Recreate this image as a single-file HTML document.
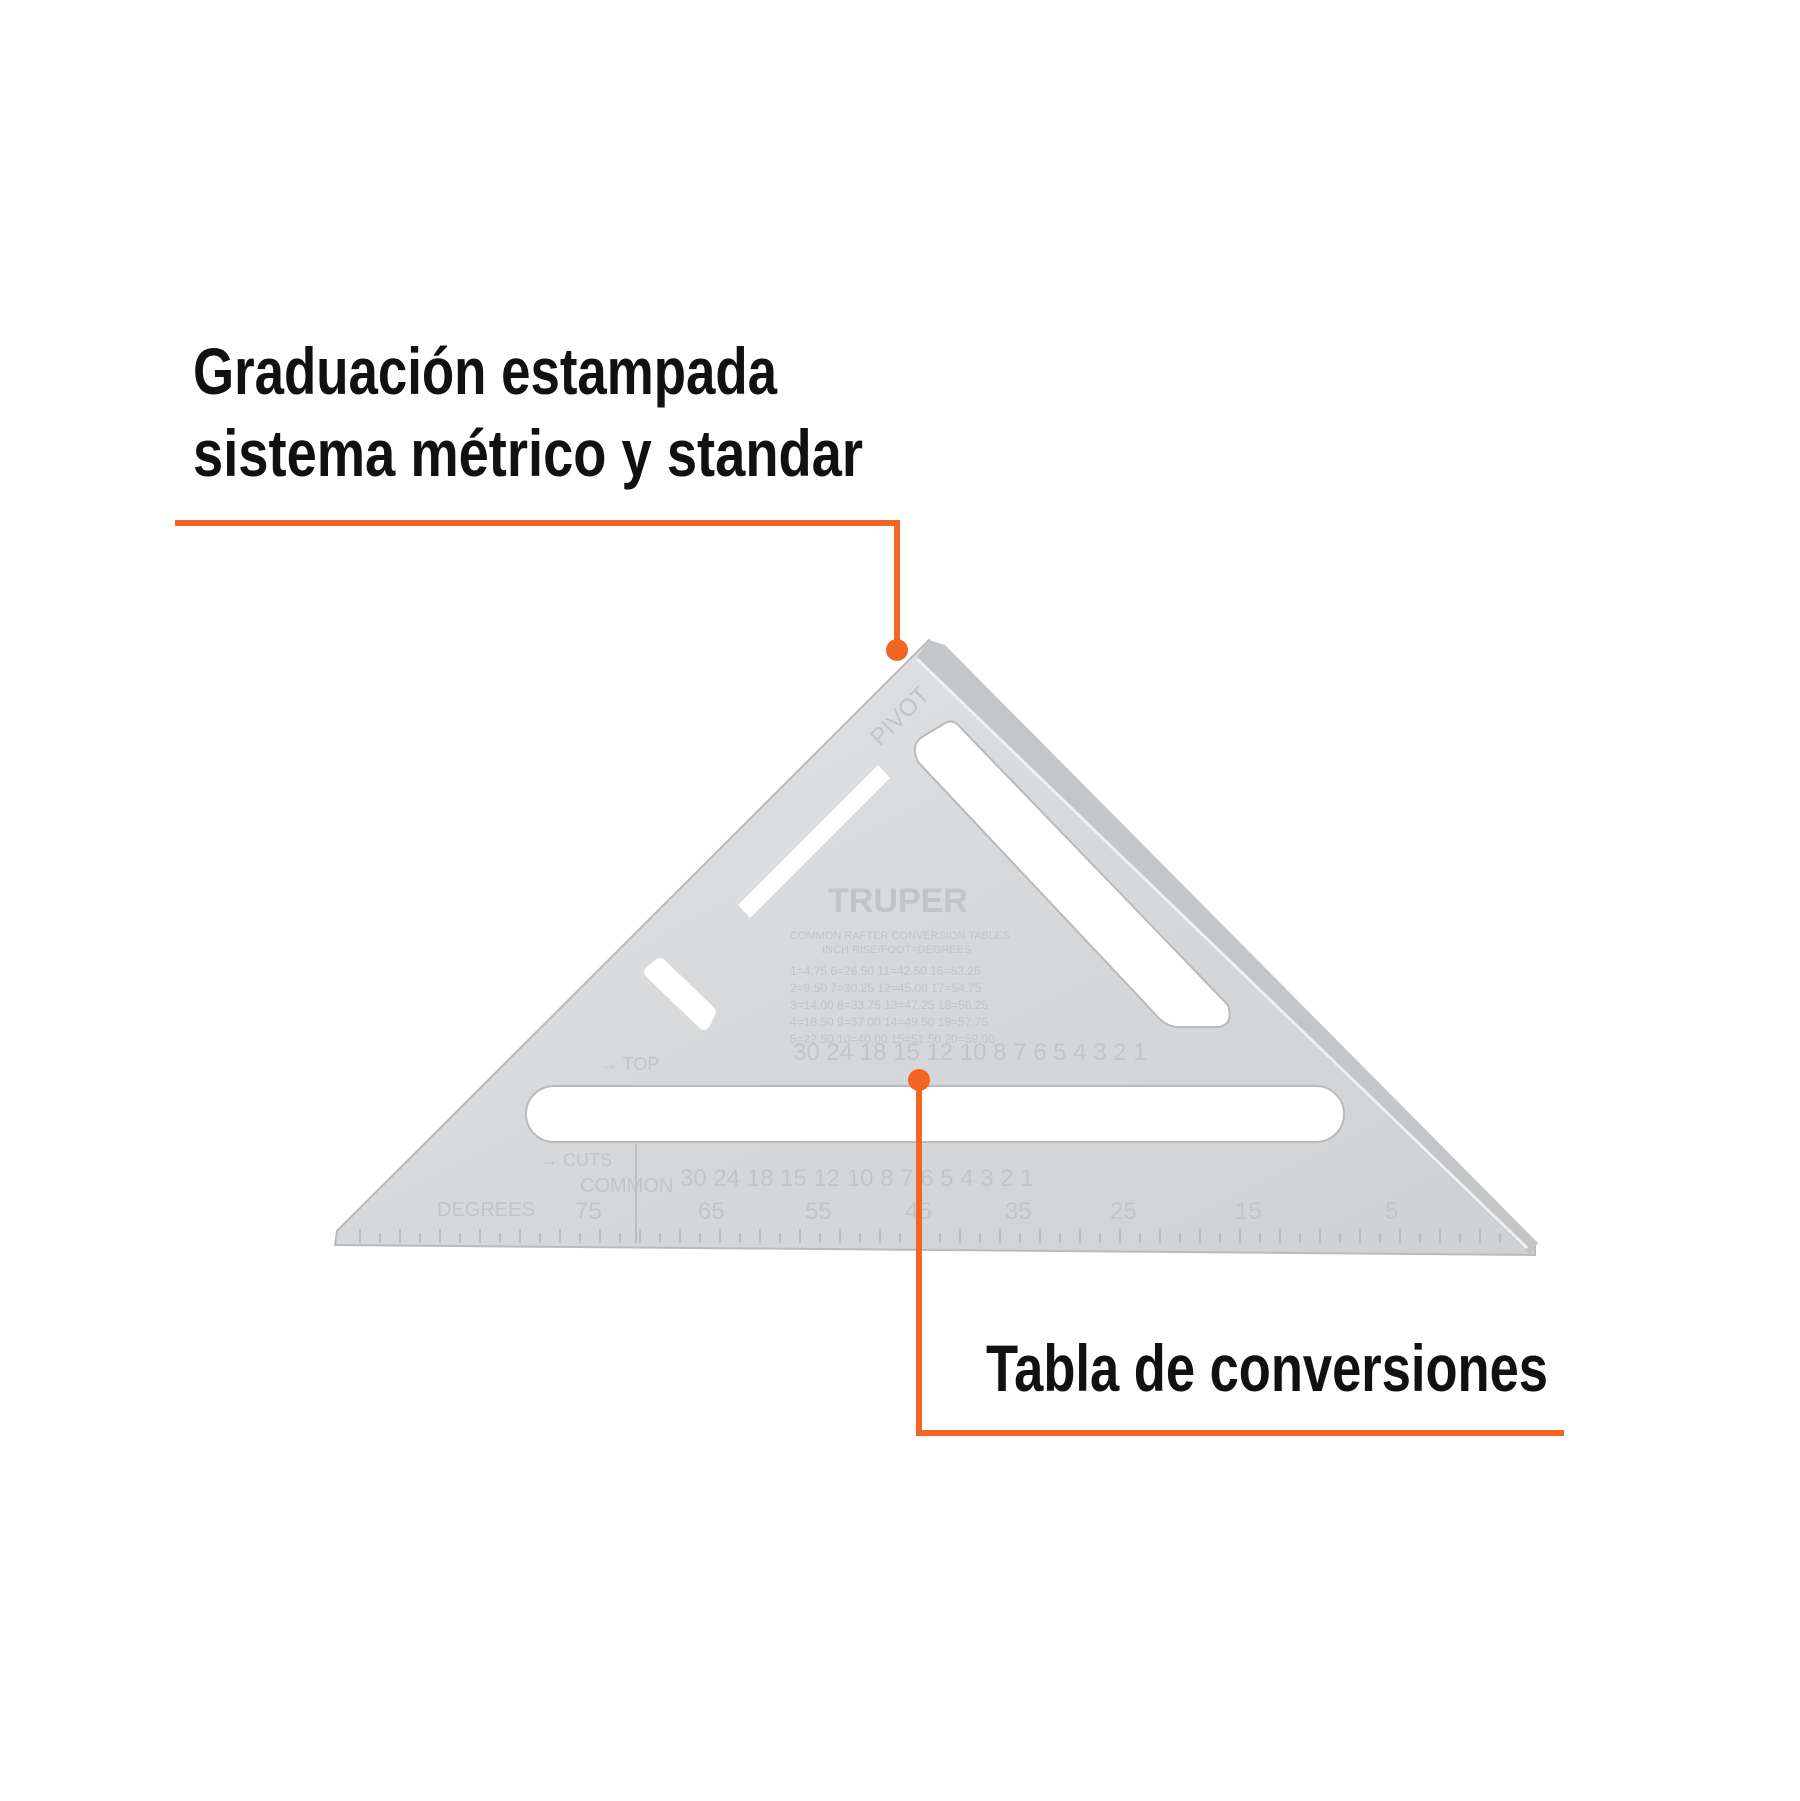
<!DOCTYPE html>
<html><head><meta charset="utf-8"><style>
html,body{margin:0;padding:0;background:#fff}
svg{display:block}
</style></head><body>
<svg width="1800" height="1801" viewBox="0 0 1800 1801" xmlns="http://www.w3.org/2000/svg">
<defs>
<linearGradient id="al" x1="0" y1="0" x2="1" y2="1">
<stop offset="0" stop-color="#e4e6e8"/><stop offset="0.5" stop-color="#d6d8da"/><stop offset="1" stop-color="#cfd1d3"/>
</linearGradient>
</defs>
<path d="M929 640 L1535 1245 L1535 1255 L335 1245 L337 1231 Z" fill="url(#al)" stroke="#b8babc" stroke-width="2"/>
<path d="M929 640 L945 645 L1538 1243 L1530 1255 L917 657 Z" fill="#c4c6c8"/>
<line x1="917" y1="659" x2="1527" y2="1248" stroke="#eef0f1" stroke-width="3"/>
<path d="M942 725 Q952 717 960 727 L1228 1005 Q1234 1025 1218 1027 L1176 1027 Q1164 1025 1156 1015 L918 762 Q910 745 922 737 Z" fill="#fff" stroke="#b8babc" stroke-width="2"/>
<rect x="526" y="1086" width="818" height="56" rx="28" fill="#fff" stroke="#b8babc" stroke-width="2"/>
<path d="M738 905 L878 765 L890 778 L750 918 Z" fill="#fff"/>
<path d="M650 972 L660 964 L710 1012 L704 1024 Z" fill="#fff" stroke="#fff" stroke-width="12" stroke-linejoin="round"/>
<g stroke="#b3b5b7" stroke-width="1.5">
<path d="M360 1243 v-14 M380 1243 v-10 M400 1243 v-14 M420 1243 v-10 M440 1243 v-14 M460 1243 v-10 M480 1243 v-14 M500 1243 v-10 M520 1243 v-14 M540 1243 v-10 M560 1243 v-14 M580 1243 v-10 M600 1243 v-14 M620 1243 v-10 M640 1243 v-14 M660 1243 v-10 M680 1243 v-14 M700 1243 v-10 M720 1243 v-14 M740 1243 v-10 M760 1243 v-14 M780 1243 v-10 M800 1243 v-14 M820 1243 v-10 M840 1243 v-14 M860 1243 v-10 M880 1243 v-14 M900 1243 v-10 M920 1243 v-14 M940 1243 v-10 M960 1243 v-14 M980 1243 v-10 M1000 1243 v-14 M1020 1243 v-10 M1040 1243 v-14 M1060 1243 v-10 M1080 1243 v-14 M1100 1243 v-10 M1120 1243 v-14 M1140 1243 v-10 M1160 1243 v-14 M1180 1243 v-10 M1200 1243 v-14 M1220 1243 v-10 M1240 1243 v-14 M1260 1243 v-10 M1280 1243 v-14 M1300 1243 v-10 M1320 1243 v-14 M1340 1243 v-10 M1360 1243 v-14 M1380 1243 v-10 M1400 1243 v-14 M1420 1243 v-10 M1440 1243 v-14 M1460 1243 v-10 M1480 1243 v-14 M1500 1243 v-10"/>
<line x1="636" y1="1144" x2="636" y2="1243"/>
</g>
<g font-family="Liberation Sans, sans-serif" fill="#c2c4c6" font-size="20">
<text x="437" y="1216">DEGREES</text>
<text x="575" y="1219" font-size="24">75</text><text x="698" y="1219" font-size="24">65</text><text x="805" y="1219" font-size="24">55</text><text x="905" y="1219" font-size="24">45</text><text x="1005" y="1219" font-size="24">35</text><text x="1110" y="1219" font-size="24">25</text><text x="1235" y="1219" font-size="24">15</text><text x="1385" y="1219" font-size="24">5</text>
<text x="580" y="1192">COMMON</text>
<text x="680" y="1186" font-size="24">30  24    18  15   12   10   8  7  6   5    4    3    2     1</text>
<text x="793" y="1060" font-size="24">30  24   18 15  12 10  8 7 6  5  4  3  2   1</text>
<text x="828" y="912" font-size="34" font-weight="bold">TRUPER</text>
<text x="790" y="939" font-size="11">COMMON RAFTER CONVERSION TABLES</text>
<text x="822" y="953" font-size="11">INCH RISE/FOOT=DEGREES</text>
<text x="790" y="975" font-size="12">1=4.75  6=26.50 11=42.50 16=53.25</text>
<text x="790" y="992" font-size="12">2=9.50  7=30.25 12=45.00 17=54.75</text>
<text x="790" y="1009" font-size="12">3=14.00 8=33.75 13=47.25 18=56.25</text>
<text x="790" y="1026" font-size="12">4=18.50 9=37.00 14=49.50 19=57.75</text>
<text x="790" y="1043" font-size="12">5=22.50 10=40.00 15=51.50 20=59.00</text>
<text x="540" y="1166" font-size="18">→ CUTS</text>
<text x="600" y="1070" font-size="18">→ TOP</text>
<text x="880" y="747" font-size="24" transform="rotate(-45 880 747)">PIVOT</text>
</g>
<g stroke="#f26522" stroke-width="6" fill="none">
<polyline points="175,523 897,523 897,650"/>
<polyline points="919,1080 919,1433 1564,1433"/>
</g>
<circle cx="897" cy="650" r="11" fill="#f26522"/>
<circle cx="919" cy="1080" r="11" fill="#f26522"/>
<g font-family="Liberation Sans Narrow, Liberation Sans, sans-serif" font-weight="bold" fill="#111" font-size="66">
<text x="193" y="394" textLength="584" lengthAdjust="spacingAndGlyphs">Graduación estampada</text>
<text x="193" y="476" textLength="670" lengthAdjust="spacingAndGlyphs">sistema métrico y standar</text>
<text x="986" y="1391" textLength="562" lengthAdjust="spacingAndGlyphs">Tabla de conversiones</text>
</g>
</svg>
</body></html>
